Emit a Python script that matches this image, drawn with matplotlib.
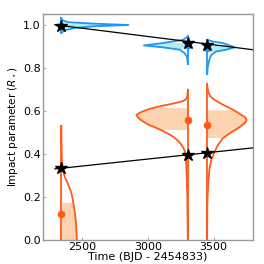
import numpy as np
import matplotlib
matplotlib.use('Agg')
import matplotlib.pyplot as plt

# transit times (BJD - 2454833)
epochs = [2340, 3305, 3450]

# model tracks of impact parameter
line_t = [2290, 3800]
line_b_outer = [1.000, 0.884]
line_b_inner = [0.330, 0.428]

# model values at each epoch (stars)
star_b_outer = [0.995, 0.915, 0.907]
star_b_inner = [0.333, 0.396, 0.405]

# posterior medians (dots)
med_b_outer = [0.995, 0.905, 0.890]
med_b_inner = [0.121, 0.556, 0.532]

# credible intervals (shaded)
ci_outer = [(0.985, 1.008), (0.888, 0.918), (0.875, 0.910)]
ci_inner = [(0.0, 0.175), (0.513, 0.616), (0.476, 0.605)]

# side of each half violin: +1 to the right, -1 to the left
sides = [1, -1, 1]

# outer planet posterior outlines (b, width in days)
outer_b = [
    [0.961, 0.965, 0.975, 0.985, 0.993, 0.999, 1.005, 1.012, 1.020, 1.031],
    [0.817, 0.835, 0.850, 0.868, 0.884, 0.895, 0.904, 0.915, 0.930, 0.946],
    [0.771, 0.800, 0.829, 0.845, 0.860, 0.876, 0.884, 0.895, 0.915, 0.922, 0.930],
]
outer_w = [
    [0, 5, 30, 100, 250, 511, 250, 50, 8, 0],
    [2, 4, 8, 25, 63, 190, 336, 190, 38, 0],
    [2, 5, 15, 22, 33, 71, 147, 211, 122, 46, 0],
]

# inner planet posterior outlines (b, width in days)
inner_b = [
    [0.0, 0.05, 0.10, 0.135, 0.163, 0.19, 0.209, 0.23, 0.25, 0.27, 0.287, 0.305,
     0.32, 0.341, 0.37, 0.40, 0.45, 0.53],
    [0.0, 0.10, 0.20, 0.30, 0.36, 0.403, 0.42, 0.434, 0.45, 0.465, 0.477, 0.488,
     0.50, 0.512, 0.524, 0.535, 0.547, 0.558, 0.570, 0.581, 0.593, 0.605, 0.613,
     0.620, 0.628, 0.636, 0.643, 0.651, 0.66, 0.670, 0.698],
    [0.0, 0.10, 0.17, 0.248, 0.290, 0.333, 0.372, 0.411, 0.442, 0.473, 0.496, 0.519,
     0.532, 0.543, 0.550, 0.558, 0.570, 0.581, 0.593, 0.605, 0.617, 0.628, 0.640,
     0.651, 0.665, 0.682, 0.705, 0.726],
]
inner_w = [
    [118, 114, 108, 101, 93, 86, 80, 70, 57, 43, 30, 21, 15, 8, 4, 2, 1, 0],
    [2, 3, 5, 10, 14, 20, 29, 41, 60, 83, 107, 134, 170, 210, 255, 299, 333, 360,
     382, 393, 362, 312, 268, 223, 160, 96, 50, 20, 10, 5, 0],
    [1, 2, 3, 8, 13, 20, 33, 58, 84, 122, 173, 236, 265, 287, 297, 302, 292, 261,
     232, 198, 160, 122, 88, 58, 30, 13, 4, 0],
]

blue = '#2196f3'
blue_fill = '#b2ecec'
orange = '#ff5a1a'
orange_fill = '#fdd3b0'


def half_violin(ax, t, side, b, w, ci, med, color, fill):
    b = np.array(b)
    w = np.array(w)
    lo, hi = ci
    inside = (b > lo) & (b < hi)
    bf = np.concatenate([[lo], b[inside], [hi]])
    wf = np.concatenate([[np.interp(lo, b, w)], w[inside], [np.interp(hi, b, w)]])
    ax.fill_betweenx(bf, t, t + side * wf, color=fill, lw=0, zorder=1)
    ax.plot(t + side * w, b, color=color, lw=1.3, zorder=2)
    ax.plot([t, t], [b[0], b[-1]], color=color, lw=1.3, zorder=2)
    ax.plot(t, med, 'o', color=color, ms=4.5, zorder=3)


fig = plt.figure(figsize=(2.64, 2.64), dpi=100)
ax = fig.add_axes([0.163, 0.091, 0.795, 0.856])

for i, t in enumerate(epochs):
    half_violin(ax, t, sides[i], outer_b[i], outer_w[i], ci_outer[i],
                med_b_outer[i], blue, blue_fill)
    half_violin(ax, t, sides[i], inner_b[i], inner_w[i], ci_inner[i],
                med_b_inner[i], orange, orange_fill)

ax.plot(line_t, line_b_outer, color='k', lw=0.9, zorder=4)
ax.plot(line_t, line_b_inner, color='k', lw=0.9, zorder=4)
ax.plot(epochs, star_b_outer, '*', color='k', ms=9, zorder=5)
ax.plot(epochs, star_b_inner, '*', color='k', ms=9, zorder=5)

ax.set_xlim(2200, 3800)
ax.set_ylim(0, 1.05)
ax.set_xticks([2500, 3000, 3500])
ax.set_yticks([0.0, 0.2, 0.4, 0.6, 0.8, 1.0])
ax.tick_params(direction='in', length=2, width=0.6, color='#999999',
               labelsize=8, pad=1.5)
for s in ax.spines.values():
    s.set_color('#999999')
    s.set_linewidth(1.0)

ax.set_xlabel('Time (BJD - 2454833)', fontsize=8, labelpad=0)
ax.set_ylabel(r'Impact parameter ($R_\star$)', fontsize=7.5, labelpad=2)

plt.savefig('out.png', dpi=100)
